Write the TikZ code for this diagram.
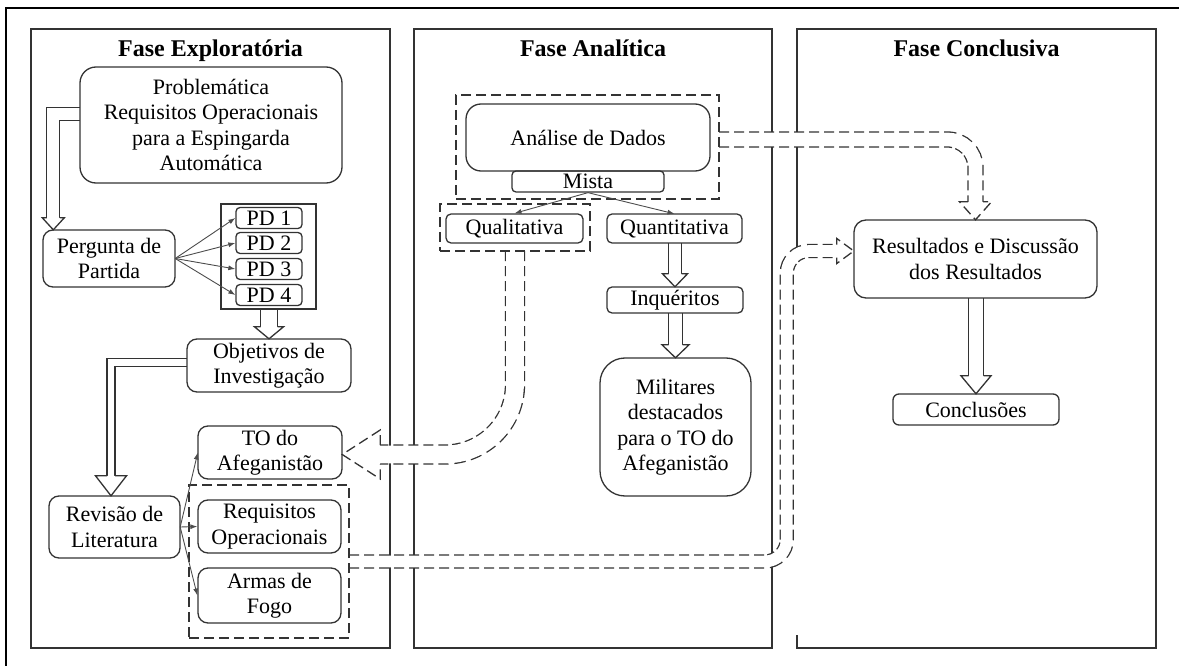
\documentclass[tikz,border=0pt]{standalone}
\usepackage{fontspec}
\setmainfont{Liberation Serif}
\usetikzlibrary{arrows.meta,calc}

\tikzset{
  stage/.style={draw=black!80, line width=1.5pt},
  title/.style={font=\fontsize{24}{28}\selectfont\bfseries, anchor=base},
  rbox/.style={draw=black!80, line width=1.3pt, rounded corners=#1, align=center, inner sep=0pt},
  rbox/.default=10pt,
  group/.style={draw=black!80, line width=1.3pt, dash pattern=on 10pt off 5pt},
  link/.style={draw=black!70, line width=0.9pt, -{Latex[length=7pt,width=5pt]}},
  hollow/.style={draw=black!80, line width=1.3pt, double=white, double distance=#1},
  dhollow/.style={draw=white, line width=#1, preaction={draw=black!80, line width=#1+2.6pt, dash pattern=on 10pt off 5pt}},
  head/.style={draw=black!80, line width=1.3pt, fill=white},
  dhead/.style={head, dash pattern=on 10pt off 5pt},
}

\begin{document}
\begin{tikzpicture}[x=1pt, y=-1pt, font=\fontsize{22}{25.5}\selectfont]
  \useasboundingbox (0,0) rectangle (1179,666);

  % frame and the three phases
  \draw[line width=2.5pt] (6,666) |- (1179,8);
  \draw[stage] (31,29) rectangle (390,648);
  \draw[stage] (414,29) rectangle (772,648);
  \draw[stage] (797,247) -- (797,29) -- (1156,29) -- (1156,648) -- (797,648) -- (797,635);
  \node[title] (t-exp) at (210.5,57) {Fase Exploratória};
  \node[title] (t-ana) at (593,57) {Fase Analítica};
  \node[title] (t-con) at (976.5,57) {Fase Conclusiva};

  % Fase Exploratoria (places)
  \node[minimum width=262pt, minimum height=116pt] (prob) at (211,125) {};
  \node[minimum width=132pt, minimum height=57pt] (pp) at (109,258.5) {};
  \node[minimum width=95pt, minimum height=105pt] (pdbox) at (268.5,256.5) {};
  \node[minimum width=164pt, minimum height=53pt] (obj) at (269,365.5) {};
  \node[minimum width=131pt, minimum height=62pt] (rev) at (114.5,527) {};
  \node[minimum width=144pt, minimum height=53pt] (afg) at (270,452.5) {};
  \node[minimum width=160pt, minimum height=153pt] (litbox) at (269,561.5) {};

  % Fase Analitica (places)
  \node[minimum width=263pt, minimum height=104pt] (anabox) at (587.5,147) {};
  \node[minimum width=150pt, minimum height=47pt] (qualbox) at (515,227.5) {};
  \node[minimum width=135pt, minimum height=29pt] (quant) at (674.5,228.5) {};
  \node[minimum width=136pt, minimum height=26pt] (inq) at (675,300) {};
  \node[minimum width=151pt, minimum height=138pt] (mil) at (675.5,427) {};

  % Fase Conclusiva (places)
  \node[minimum width=243pt, minimum height=78pt] (res) at (975.5,259) {};
  \node[minimum width=166pt, minimum height=31pt] (concl) at (976,409.5) {};

  % hollow arrows
  \coordinate (t1) at ($(pp.north west)+(10.5,0)$);
  \draw[hollow=11.7pt] ($(prob.west)+(0,-11)$) -| ($(t1)+(0,-12)$);
  \draw[head] ($(t1)+(-6.5,-12)$) -- ++(-4.5,0) -- (t1) -- ++(11,-12) -- ++(-4.5,0);

  \draw[hollow=15.7pt] (obj.north |- pdbox.south) -- ($(obj.north)+(0,-12)$);
  \draw[head] ($(obj.north)+(-8.5,-12)$) -- ++(-6,0) -- (obj.north) -- ++(14.5,-12) -- ++(-6,0);

  \coordinate (t3) at ($(rev.north)+(-3.5,0)$);
  \draw[hollow=6.7pt] ($(obj.west)+(0,-3)$) -| ($(t3)+(0,-20)$);
  \draw[head] ($(t3)+(-4,-20)$) -- ++(-11.5,0) -- (t3) -- ++(15.5,-20) -- ++(-11.5,0);

  \draw[hollow=11.7pt] (inq.north |- quant.south) -- ($(inq.north)+(0,-13)$);
  \draw[head] ($(inq.north)+(-6.5,-13)$) -- ++(-6,0) -- (inq.north) -- ++(12.5,-13) -- ++(-6,0);

  \draw[hollow=12.7pt] (mil.north |- inq.south) -- ($(mil.north)+(0,-13)$);
  \draw[head] ($(mil.north)+(-7,-13)$) -- ++(-6.5,0) -- (mil.north) -- ++(13.5,-13) -- ++(-6.5,0);

  \draw[hollow=13.7pt] (concl.north |- res.south) -- ($(concl.north)+(0,-18)$);
  \draw[head] ($(concl.north)+(-7.5,-18)$) -- ++(-7.5,0) -- (concl.north) -- ++(15,-18) -- ++(-7.5,0);

  % dashed hollow arrows
  \coordinate (t7) at ($(afg.east)+(0,2)$);
  \draw[dhollow=17.7pt, rounded corners=70pt] (qualbox.south) |- ($(t7)+(38,0)$);
  \draw[dhead] ($(t7)+(38,-9.5)$) -- ++(0,-15) -- (t7) -- ++(38,24.5) -- ++(0,-15);

  \coordinate (t8) at ($(res.west)+(0,-8)$);
  \draw[dhollow=11.7pt, rounded corners=22pt] (litbox.east) -| ($(t8)+(-67,0)$) -- ($(t8)+(-17,0)$);
  \draw[dhead] ($(t8)+(-17,-6.5)$) -- ++(0,-6) -- (t8) -- ++(-17,12.5) -- ++(0,-6);

  \draw[dhollow=13.7pt, rounded corners=28pt] ($(anabox.east)+(0,-7.5)$) -| ($(res.north)+(0,-18)$);
  \draw[dhead] ($(res.north)+(-7.5,-18)$) -- ++(-8.5,0) -- (res.north) -- ++(16,-18) -- ++(-8.5,0);

  % boxes
  \node[rbox=16pt, minimum width=262pt, minimum height=116pt] at (prob) {Problemática\\Requisitos Operacionais\\para a Espingarda\\Automática};
  \node[rbox, minimum width=132pt, minimum height=57pt] at (pp) {Pergunta de\\Partida};
  \node[draw=black!80, line width=1.3pt, minimum width=95pt, minimum height=105pt] at (pdbox) {};
  \foreach \i/\y in {1/218,2/243,3/269,4/295}
    \node[rbox=4pt, minimum width=66pt, minimum height=21pt] (pd\i) at (269,\y) {PD \i};
  \node[rbox, minimum width=164pt, minimum height=53pt] at (obj) {Objetivos de\\Investigação};
  \node[rbox, minimum width=131pt, minimum height=62pt] at (rev) {Revisão de\\Literatura};
  \node[rbox, minimum width=144pt, minimum height=53pt] at (afg) {TO do\\Afeganistão};
  \node[rbox, minimum width=143pt, minimum height=53pt] (req) at (269.5,526.5) {Requisitos\\Operacionais};
  \node[rbox, minimum width=143pt, minimum height=55pt] (armas) at (269.5,595.5) {Armas de\\Fogo};
  \node[group, minimum width=160pt, minimum height=153pt] at (litbox) {};

  \node[rbox=15pt, minimum width=244pt, minimum height=67pt] (ana) at (588,137.5) {Análise de Dados};
  \node[rbox=4pt, minimum width=152pt, minimum height=21pt, text depth=0pt] (mista) at (588,181.5) {Mista};
  \node[group, minimum width=263pt, minimum height=104pt] at (anabox) {};
  \node[rbox=5pt, minimum width=137pt, minimum height=29pt] (qual) at (514.5,228.5) {Qualitativa};
  \node[group, minimum width=150pt, minimum height=47pt] at (qualbox) {};
  \node[rbox=5pt, minimum width=135pt, minimum height=29pt] at (quant) {Quantitativa};
  \node[rbox=5pt, minimum width=136pt, minimum height=26pt] at (inq) {Inquéritos};
  \node[rbox=25pt, minimum width=151pt, minimum height=138pt] at (mil) {Militares\\destacados\\para o TO do\\Afeganistão};

  \node[rbox=12pt, minimum width=243pt, minimum height=78pt] at (res) {Resultados e Discussão\\dos Resultados};
  \node[rbox=6pt, minimum width=166pt, minimum height=31pt] at (concl) {Conclusões};

  % thin arrows
  \foreach \i in {1,...,4}
    \draw[link] (pp.east) -- (pd\i.west);
  \foreach \n in {afg,req,armas}
    \draw[link] (rev.east) -- (\n.west);
  \draw[link] (mista.south) -- (qual.north);
  \draw[link] (mista.south) -- (quant.north);
\end{tikzpicture}
\end{document}
